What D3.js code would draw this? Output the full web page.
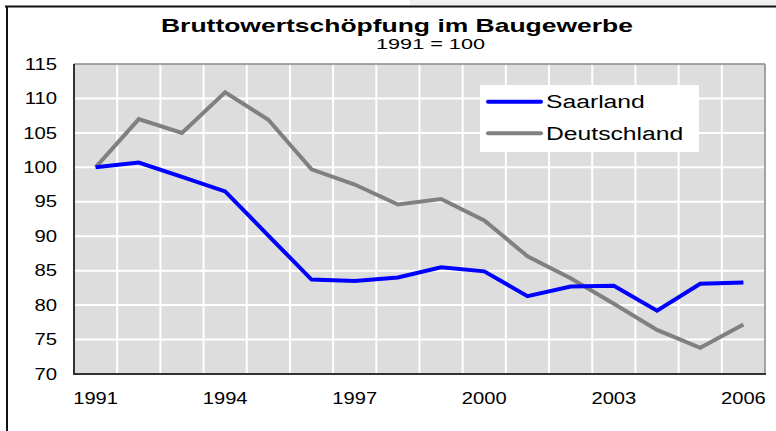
<!DOCTYPE html>
<html><head><meta charset="utf-8">
<script src="https://cdn.jsdelivr.net/npm/d3@7"></script>
<style>body{margin:0;background:#fff}svg{display:block}text{font-family:"Liberation Sans",Arial,sans-serif;fill:#000}</style>
</head><body><svg id="c" width="776" height="431"></svg>
<script>
const years = ["1991","1992","1993","1994","1995","1996","1997","1998","1999","2000","2001","2002","2003","2004","2005","2006"];
const saarland = [100, 100.7, 98.6, 96.5, 90.1, 83.7, 83.5, 84.0, 85.5, 84.9, 81.3, 82.7, 82.8, 79.2, 83.1, 83.3];
const deutschland = [100, 107.0, 105.0, 110.9, 106.9, 99.7, 97.5, 94.6, 95.4, 92.3, 87.1, 83.9, 80.2, 76.4, 73.8, 77.2];
const xTickLabels = ["1991","1994","1997","2000","2003","2006"];
const yTicks = [70,75,80,85,90,95,100,105,110,115];
const seriesNames = ["Saarland","Deutschland"];
const seriesColors = ["#0000ff","#808080"];
const title = "Bruttowertschöpfung im Baugewerbe";
const subtitle = "1991 = 100";

const svg = d3.select("#c");
const L = 74, R = 765, T = 64, B = 374;
const x = d3.scaleBand().domain(years).range([L, R]).paddingInner(0).paddingOuter(0);
const y = d3.scaleLinear().domain([70, 115]).range([B, T]);

// outer frame
svg.append("rect").attr("x", 410).attr("y", 0).attr("width", 366).attr("height", 5).attr("fill", "#f0f0f0");
svg.append("line").attr("x1", 5).attr("x2", 776).attr("y1", 6.5).attr("y2", 6.5).attr("stroke", "#111").attr("stroke-width", 2);
svg.append("line").attr("x1", 7).attr("x2", 7).attr("y1", 6).attr("y2", 431).attr("stroke", "#111").attr("stroke-width", 2);

// plot area
svg.append("rect").attr("x", L).attr("y", T).attr("width", R - L).attr("height", B - T).attr("fill", "#dddddd");
// grid
svg.append("g").selectAll("line").data(years.slice(1)).join("line")
  .attr("x1", d => x(d)).attr("x2", d => x(d)).attr("y1", T).attr("y2", B)
  .attr("stroke", "#fff").attr("stroke-width", 2);
svg.append("g").selectAll("line").data(yTicks.slice(1, -1)).join("line")
  .attr("x1", L).attr("x2", R).attr("y1", d => y(d)).attr("y2", d => y(d))
  .attr("stroke", "#fff").attr("stroke-width", 2);
// border
svg.append("line").attr("x1", L).attr("x2", R).attr("y1", T).attr("y2", T).attr("stroke", "#888").attr("stroke-width", 1.5);
svg.append("line").attr("x1", R).attr("x2", R).attr("y1", T).attr("y2", B).attr("stroke", "#888").attr("stroke-width", 1.5);
svg.append("line").attr("x1", L).attr("x2", L).attr("y1", T).attr("y2", B + 1).attr("stroke", "#333").attr("stroke-width", 2);
svg.append("line").attr("x1", L - 1).attr("x2", R + 1).attr("y1", B).attr("y2", B).attr("stroke", "#333").attr("stroke-width", 2);

// y labels
svg.append("g").selectAll("text").data(yTicks).join("text")
  .attr("transform", d => `translate(57,${y(d) + 5.7}) scale(1.27,1)`)
  .attr("text-anchor", "end").attr("font-size", 16).text(d => d);
// x labels
svg.append("g").selectAll("text").data(xTickLabels).join("text")
  .attr("transform", d => `translate(${x(d) + x.bandwidth() / 2},404) scale(1.26,1)`)
  .attr("text-anchor", "middle").attr("font-size", 16).text(d => d);

// lines
const line = d3.line().x((d, i) => x(years[i]) + x.bandwidth() / 2).y(d => y(d));
[deutschland, saarland].forEach((s, k) => {
  svg.append("path").attr("d", line(s)).attr("fill", "none")
    .attr("stroke", k === 0 ? seriesColors[1] : seriesColors[0])
    .attr("stroke-width", 4).attr("stroke-linejoin", "miter");
});

// titles
svg.append("text").attr("x", 161).attr("y", 31.7)
  .attr("textLength", 472).attr("lengthAdjust", "spacingAndGlyphs")
  .attr("font-size", 18.5).attr("font-weight", "bold").text(title);
svg.append("text").attr("x", 376).attr("y", 49.3)
  .attr("textLength", 109).attr("lengthAdjust", "spacingAndGlyphs")
  .attr("font-size", 15).text(subtitle);

// legend
const lg = svg.append("g");
lg.append("rect").attr("x", 480).attr("y", 85).attr("width", 219).attr("height", 67).attr("fill", "#fff");
seriesNames.forEach((n, i) => {
  const cy = 101.7 + i * 31.6;
  lg.append("line").attr("x1", 488).attr("x2", 541).attr("y1", cy).attr("y2", cy)
    .attr("stroke", seriesColors[i]).attr("stroke-width", 4).attr("stroke-linecap", "round");
  lg.append("text").attr("transform", `translate(546,${cy + 6.5}) scale(1.3,1)`)
    .attr("font-size", 19).text(n);
});
</script></body></html>
